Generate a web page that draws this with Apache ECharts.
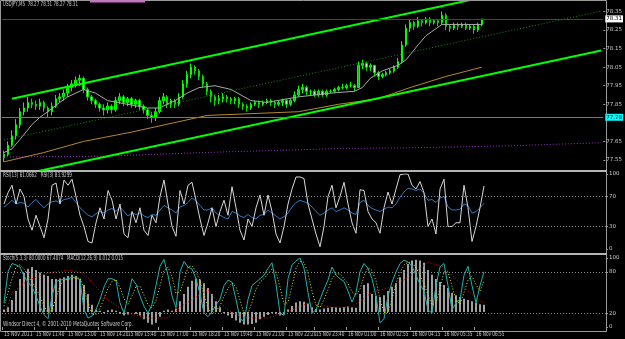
<!DOCTYPE html>
<html>
<head>
<meta charset="utf-8">
<script src="https://cdn.jsdelivr.net/npm/echarts@6/dist/echarts.min.js"></script>
<style>
  html, body { margin: 0; padding: 0; background: #000; }
  #chart { width: 625px; height: 339px; }
</style>
</head>
<body>
<div id="chart"></div>
<script>
// USDJPY M5 - one category holds two M5 bars
// candles: [open, close, low, high]
const candles = [
  [77.56,77.58,77.54,77.60],[77.58,77.63,77.57,77.65],[77.63,77.68,77.62,77.71],[77.68,77.74,77.66,77.77],
  [77.74,77.81,77.72,77.83],[77.81,77.83,77.79,77.86],[77.83,77.86,77.81,77.89],[77.86,77.85,77.83,77.88],
  [77.85,77.84,77.82,77.87],[77.84,77.86,77.82,77.88],[77.86,77.83,77.81,77.87],[77.83,77.81,77.78,77.84],
  [77.81,77.84,77.79,77.86],[77.84,77.88,77.83,77.90],[77.88,77.89,77.86,77.91],[77.89,77.91,77.87,77.93],
  [77.91,77.94,77.89,77.96],[77.94,77.96,77.92,77.98],[77.96,77.98,77.94,78.00],[77.98,77.99,77.95,78.01],
  [77.99,77.93,77.91,78.00],[77.93,77.89,77.87,77.94],[77.89,77.87,77.85,77.90],[77.87,77.85,77.83,77.88],
  [77.85,77.83,77.81,77.86],[77.83,77.82,77.79,77.85],[77.82,77.84,77.80,77.86],[77.84,77.82,77.80,77.85],
  [77.82,77.87,77.81,77.89],[77.87,77.89,77.85,77.91],[77.89,77.86,77.84,77.90],[77.86,77.88,77.84,77.89],
  [77.88,77.85,77.83,77.89],[77.85,77.87,77.83,77.88],[77.87,77.84,77.82,77.88],[77.84,77.82,77.80,77.85],
  [77.82,77.79,77.77,77.83],[77.79,77.78,77.75,77.81],[77.78,77.81,77.76,77.83],[77.81,77.87,77.80,77.89],
  [77.87,77.89,77.85,77.91],[77.89,77.85,77.83,77.90],[77.85,77.87,77.83,77.88],[77.87,77.85,77.83,77.88],
  [77.85,77.89,77.84,77.91],[77.89,77.96,77.88,77.98],[77.96,78.01,77.94,78.03],[78.01,78.05,77.99,78.07],
  [78.05,78.03,78.01,78.06],[78.03,78.00,77.98,78.04],[78.00,77.96,77.94,78.01],[77.96,77.92,77.90,77.97],
  [77.92,77.89,77.86,77.93],[77.89,77.87,77.84,77.90],[77.87,77.88,77.85,77.90],[77.88,77.89,77.86,77.91],
  [77.89,77.88,77.86,77.90],[77.88,77.87,77.85,77.89],[77.87,77.88,77.85,77.89],[77.88,77.85,77.83,77.89],
  [77.85,77.84,77.82,77.86],[77.84,77.83,77.81,77.85],[77.83,77.85,77.82,77.86],[77.85,77.86,77.84,77.87],
  [77.86,77.85,77.83,77.87],[77.85,77.86,77.84,77.87],[77.86,77.87,77.85,77.88],[77.87,77.86,77.84,77.88],
  [77.86,77.85,77.83,77.87],[77.85,77.86,77.84,77.87],[77.86,77.87,77.84,77.88],[77.87,77.85,77.83,77.88],
  [77.85,77.87,77.84,77.88],[77.87,77.90,77.86,77.92],[77.90,77.93,77.89,77.95],[77.93,77.94,77.91,77.96],
  [77.94,77.92,77.90,77.95],[77.92,77.92,77.90,77.93],[77.92,77.90,77.89,77.93],[77.90,77.92,77.89,77.93],
  [77.92,77.90,77.89,77.93],[77.90,77.92,77.89,77.93],[77.92,77.92,77.91,77.93],[77.92,77.93,77.91,77.94],
  [77.93,77.94,77.92,77.95],[77.94,77.94,77.93,77.96],[77.94,77.95,77.93,77.96],[77.95,77.95,77.94,77.97],
  [77.95,77.94,77.92,77.96],[77.94,78.06,77.94,78.08],[78.06,78.07,78.04,78.09],[78.07,78.05,78.03,78.08],
  [78.05,78.06,78.03,78.07],[78.06,78.02,78.00,78.06],[78.02,78.00,77.98,78.03],[78.00,78.01,77.99,78.02],
  [78.01,78.02,78.00,78.03],[78.02,78.03,78.01,78.04],[78.03,78.05,78.02,78.06],[78.05,78.08,78.04,78.10],
  [78.08,78.17,78.07,78.19],[78.17,78.26,78.16,78.28],[78.26,78.29,78.24,78.31],[78.29,78.27,78.25,78.30],
  [78.27,78.30,78.26,78.32],[78.30,78.29,78.27,78.31],[78.29,78.31,78.28,78.32],[78.31,78.29,78.27,78.32],
  [78.29,78.30,78.28,78.31],[78.30,78.29,78.27,78.31],[78.29,78.33,78.28,78.35],[78.33,78.27,78.25,78.34],
  [78.27,78.26,78.24,78.28],[78.26,78.28,78.25,78.29],[78.28,78.27,78.25,78.29],[78.27,78.28,78.26,78.29],
  [78.28,78.26,78.25,78.29],[78.26,78.27,78.25,78.28],[78.27,78.25,78.23,78.28],[78.25,78.28,78.24,78.29],
  [78.28,78.31,78.27,78.31]
];

// moving averages, read as [category, price]
const maFast = [[0,77.59],[2,77.61],[4,77.66],[7,77.74],[9,77.78],[11,77.81],[14,77.86],[16,77.89],[20,77.93],
  [23,77.91],[26,77.87],[31,77.85],[36,77.83],[39,77.83],[43,77.87],[46,77.91],[49,77.94],[53,77.95],[57,77.93],
  [62,77.87],[66,77.86],[74,77.89],[82,77.91],[88,77.92],[90,77.94],[92,77.99],[95,78.03],[99,78.06],[101,78.09],
  [104,78.17],[106,78.22],[110,78.28],[114,78.28],[120,78.28]];
const maSlow = [[0,77.54],[10,77.59],[20,77.65],[32,77.70],[51,77.79],[74,77.81],[84,77.85],[94,77.88],
  [102,77.94],[111,78.00],[120,78.05]];

// drawn objects on the price pane
const channelTop = [[2,77.880],[118,78.416]];
const channelBottom = [[9,77.492],[150,78.140]];
const channelMid = [[0,77.658],[150,78.352]];
const longLine = [[0,77.566],[25,77.570],[50,77.590],[85,77.612],[100,77.615],[125,77.625],[150,77.643]];
const bidPrice = 78.31;
const levelPrice = 77.78;

const rsi3 = [60,75,85,60,80,70,40,25,45,30,15,40,85,88,60,92,85,93,70,45,30,10,8,35,55,40,78,65,40,60,
  20,15,50,35,55,25,18,45,35,70,92,60,30,17,78,60,85,89,65,40,18,35,55,30,50,65,45,83,55,25,
  12,40,30,55,72,45,72,50,20,8,30,60,80,96,96,94,60,40,20,3,30,70,85,55,70,89,60,35,21,79,
  78,50,40,35,21,55,76,60,80,99,100,100,85,80,90,75,30,40,20,80,93,30,30,35,35,85,55,10,30,55,84];
const rsi13 = [56,60,65,60,62,61,56,62,66,60,55,60,63,64,62,66,67,69,62,55,50,45,43,47,50,48,52,54,50,56,
  50,44,48,46,48,44,42,46,45,52,58,55,52,48,56,58,62,68,64,58,52,52,55,48,45,42,40,50,48,44,
  42,46,42,40,45,46,52,48,44,40,43,48,56,62,65,63,61,56,50,45,48,52,55,50,52,55,52,48,46,62,
  65,58,54,52,50,53,56,55,60,69,76,81,80,78,80,74,65,66,62,68,70,56,52,52,53,60,58,48,50,55,61];

const stochMain = [35,80,92,90,87,74,65,58,45,30,18,12,45,66,68,69,70,72,72,68,25,13,16,25,40,58,70,70,67,35,
  20,45,70,62,45,30,20,33,60,88,98,75,45,28,80,95,87,84,70,48,20,15,22,32,40,60,68,65,40,12,
  8,40,60,65,70,75,85,93,62,20,17,70,90,96,100,85,50,20,25,40,55,68,87,75,70,66,52,36,50,80,
  92,85,70,45,6,12,45,65,80,92,97,94,88,75,62,52,25,20,60,87,92,60,25,35,40,75,88,60,35,60,80];
const stochSignal = [30,50,70,87,90,84,75,66,56,44,31,20,25,41,60,68,69,70,71,71,55,35,18,18,27,41,56,66,69,57,
  41,33,45,59,59,46,32,28,38,60,82,87,73,49,51,68,87,89,80,67,46,28,19,23,31,44,56,64,58,39,
  20,20,36,55,65,70,77,84,80,58,33,36,59,85,95,94,78,52,32,28,40,54,70,77,77,70,63,51,46,55,
  74,86,82,67,40,21,21,41,63,79,90,94,93,86,75,63,46,32,35,56,80,80,59,40,33,50,68,74,61,52,67.41];

const macdHist = [0.004,0.008,0.02,0.035,0.055,0.065,0.072,0.075,0.07,0.066,0.062,0.06,0.055,0.055,0.056,0.058,
  0.06,0.062,0.06,0.055,0.045,0.03,0.012,0.004,0.002,-0.002,0.003,0.004,0.002,-0.003,-0.006,-0.004,0,-0.003,
  -0.006,-0.012,-0.018,-0.021,-0.018,-0.008,0.002,0.004,0.002,0.006,0.018,0.03,0.042,0.052,0.056,0.054,0.048,
  0.04,0.03,0.018,0.008,-0.002,-0.006,-0.01,-0.014,-0.018,-0.021,-0.021,-0.02,-0.018,-0.012,-0.008,-0.005,
  -0.002,-0.003,-0.006,-0.004,0.004,0.01,0.016,0.018,0.017,0.014,0.008,0.005,0.004,0.006,0.007,0.008,0.008,
  0.007,0.008,0.009,0.008,0.007,0.03,0.045,0.048,0.03,0.027,0.025,0.028,0.035,0.042,0.048,0.058,0.07,0.08,
  0.086,0.087,0.086,0.082,0.07,0.062,0.055,0.05,0.045,0.04,0.032,0.028,0.025,0.022,0.02,0.018,0.015,0.013,0.012];
const macdSignal = [[0,-0.01],[2,0.032],[6,0.053],[11,0.065],[16,0.07],[20,0.065],[23,0.042],[26,0.02],
  [31,-0.002],[36,-0.01],[41,-0.01],[44,0.008],[48,0.025],[51,0.037],[52,0.028],[56,0.003],[60,-0.01],
  [66,-0.01],[72,0.003],[76,0.015],[82,0.008],[87,0.008],[92,0.033],[96,0.04],[101,0.057],[106,0.083],
  [110,0.075],[114,0.048],[118,0.023],[120,0.015]];

const priceTicks = [77.55,77.65,77.85,77.95,78.05,78.15,78.25,78.35];
const rsiTicks = [0,30,70,100];
const stochTicks = [0,20,80,100];
const timeLabels = ['15 Nov 2011','15 Nov 11:40','15 Nov 13:00','15 Nov 14:20','15 Nov 15:40','15 Nov 17:00',
  '15 Nov 18:20','15 Nov 19:40','15 Nov 21:00','15 Nov 22:20','15 Nov 23:40','16 Nov 01:00','16 Nov 02:55',
  '16 Nov 04:15','16 Nov 05:35','16 Nov 06:55'];
const timeLabelIdx = [0,8,16,24,31,39,47,55,63,71,78,86,94,102,110,118];

const CAT_COUNT = 151;
const categories = [];
for (let i = 0; i < CAT_COUNT; i++) {
  const k = timeLabelIdx.indexOf(i);
  categories.push(k >= 0 ? timeLabels[k] : '');
}

const FONT = '"DejaVu Sans", sans-serif';
const TXT = '#c8c8c8';
const FRAME = '#9a9a9a';

// the screenshot is squeezed sideways, so captions are drawn narrow
const measureCtx = document.createElement('canvas').getContext('2d');
function squeezed(text, x, y, width, fill) {
  const font = '7px ' + FONT;
  measureCtx.font = font;
  return {
    type: 'text', x, y, silent: true,
    scaleX: width / measureCtx.measureText(text).width,
    style: { text, fill: fill || TXT, font },
  };
}

function xAxisFor(gridIndex, showTicks) {
  return {
    type: 'category',
    gridIndex,
    data: categories,
    boundaryGap: true,
    offset: showTicks ? 4 : 0,
    axisLine: { show: false },
    axisTick: {
      show: showTicks,
      length: 3,
      interval: (idx) => timeLabelIdx.includes(idx),
      lineStyle: { color: FRAME },
    },
    axisLabel: { show: false },
    splitLine: { show: false },
  };
}

function yAxisFor(gridIndex, min, max, ticks, fmt) {
  return {
    type: 'value',
    gridIndex,
    position: 'right',
    min,
    max,
    axisLine: { show: false },
    axisTick: { show: true, length: 2, customValues: ticks, lineStyle: { color: FRAME } },
    axisLabel: {
      customValues: ticks,
      formatter: fmt,
      margin: 3,
      color: TXT,
      fontSize: 5.5,
      fontFamily: FONT,
    },
    splitLine: { show: false },
  };
}

const dotted = (color) => ({ color, width: 1, type: [1, 2] });
const boxLabel = (text, bg) => ({
  position: 'end', distance: 2, formatter: text, color: '#000', backgroundColor: bg,
  padding: [1, 1, 0, 1], fontSize: 5.5, fontFamily: FONT,
});

const chart = echarts.init(document.getElementById('chart'));
chart.setOption({
  animation: false,
  backgroundColor: '#000',
  grid: [
    { left: 2, right: 19, top: 2, height: 168 },
    { left: 2, right: 19, top: 174, height: 75 },
    { left: 2, right: 19, top: 258, height: 69 },
  ],
  xAxis: [xAxisFor(0, false), xAxisFor(1, false), xAxisFor(2, true)],
  yAxis: [
    yAxisFor(0, 77.496, 78.401, priceTicks, (v) => v.toFixed(2)),
    yAxisFor(1, 0, 100, rsiTicks, (v) => String(v)),
    yAxisFor(2, 0, 100, stochTicks, (v) => String(v)),
    { type: 'value', gridIndex: 2, min: -0.025, max: 0.09, show: false },
  ],
  series: [
    { type: 'line', xAxisIndex: 0, yAxisIndex: 0, data: longLine, symbol: 'none', lineStyle: dotted('#9b30c8') },
    {
      type: 'candlestick', xAxisIndex: 0, yAxisIndex: 0, data: candles, barWidth: 2,
      itemStyle: { color: '#00c800', color0: '#b8ffb8', borderColor: '#00ff00', borderColor0: '#00e000', borderWidth: 1 },
      markLine: {
        silent: true, symbol: 'none',
        data: [
          { yAxis: bidPrice, lineStyle: { color: '#3c4654', width: 1, type: 'solid' }, label: boxLabel(bidPrice.toFixed(2), '#ffffff') },
          { yAxis: levelPrice, lineStyle: { color: '#1fa08c', width: 1, type: 'solid' }, label: boxLabel(levelPrice.toFixed(2), '#00ffff') },
        ],
      },
    },
    { type: 'line', xAxisIndex: 0, yAxisIndex: 0, data: maSlow, symbol: 'none', lineStyle: { color: '#b8862b', width: 1 } },
    { type: 'line', xAxisIndex: 0, yAxisIndex: 0, data: maFast, symbol: 'none', lineStyle: { color: '#a8a8a8', width: 1 } },
    { type: 'line', xAxisIndex: 0, yAxisIndex: 0, data: channelMid, symbol: 'none', lineStyle: dotted('#1a8a1a') },
    { type: 'line', xAxisIndex: 0, yAxisIndex: 0, data: channelTop, symbol: 'none', lineStyle: { color: '#00ff00', width: 2 } },
    { type: 'line', xAxisIndex: 0, yAxisIndex: 0, data: channelBottom, symbol: 'none', lineStyle: { color: '#00ff00', width: 2 } },

    // RSI pane
    {
      type: 'line', xAxisIndex: 1, yAxisIndex: 1, data: rsi13, symbol: 'none',
      lineStyle: { color: '#2a78c0', width: 1 },
      markLine: {
        silent: true, symbol: 'none', label: { show: false },
        lineStyle: dotted('#8a8a8a'),
        data: [{ yAxis: 30 }, { yAxis: 70 }],
      },
    },
    { type: 'line', xAxisIndex: 1, yAxisIndex: 1, data: rsi3, symbol: 'none', lineStyle: { color: '#d8d8d8', width: 1 } },

    // Stochastic + MACD pane
    { type: 'bar', xAxisIndex: 2, yAxisIndex: 3, data: macdHist, barWidth: 2, itemStyle: { color: '#a0a0a0' } },
    { type: 'line', xAxisIndex: 2, yAxisIndex: 3, data: macdSignal, symbol: 'none', lineStyle: dotted('#e01010') },
    {
      type: 'line', xAxisIndex: 2, yAxisIndex: 2, data: stochMain, symbol: 'none',
      lineStyle: { color: '#20b2aa', width: 1 },
      markLine: {
        silent: true, symbol: 'none', label: { show: false },
        lineStyle: dotted('#8a8a8a'),
        data: [{ yAxis: 20 }, { yAxis: 80 }],
      },
    },
    { type: 'line', xAxisIndex: 2, yAxisIndex: 2, data: stochSignal, symbol: 'none', lineStyle: dotted('#e8e800') },
  ],
});

// frame, captions and time labels (placed on the category axis)
const graphics = [
  { type: 'rect', shape: { x: 0.5, y: 0.5, width: 606, height: 331 }, style: { fill: null, stroke: FRAME, lineWidth: 1 }, silent: true },
  { type: 'rect', shape: { x: 0, y: 170, width: 607, height: 2 }, style: { fill: '#b4b4b4' }, silent: true },
  { type: 'rect', shape: { x: 0, y: 253, width: 607, height: 2 }, style: { fill: '#b4b4b4' }, silent: true },
  { type: 'line', shape: { x1: 90, y1: 1.5, x2: 145, y2: 1.5 }, style: { stroke: '#e060e0', lineWidth: 2 }, silent: true },
  squeezed('USDJPY,M5  78.27 78.31 78.27 78.31', 3, 1, 75),
  squeezed('RSI(13) 61.0662   RSI(3) 83.9299', 3, 172, 69),
  squeezed('Stoch(5,3,3) 80.0000 67.4074   MACD(12,26,9) 0.012 0.015', 3, 255, 120),
  squeezed('Windsor Direct 4, \u00a9 2001-2010 MetaQuotes Software Corp.', 3, 321, 130),
];
timeLabels.forEach((text, k) => {
  const x = chart.convertToPixel({ xAxisIndex: 2 }, timeLabelIdx[k]);
  graphics.push(squeezed(text, x, 331, 28.5));
});
chart.setOption({ graphic: graphics });
</script>
</body>
</html>
